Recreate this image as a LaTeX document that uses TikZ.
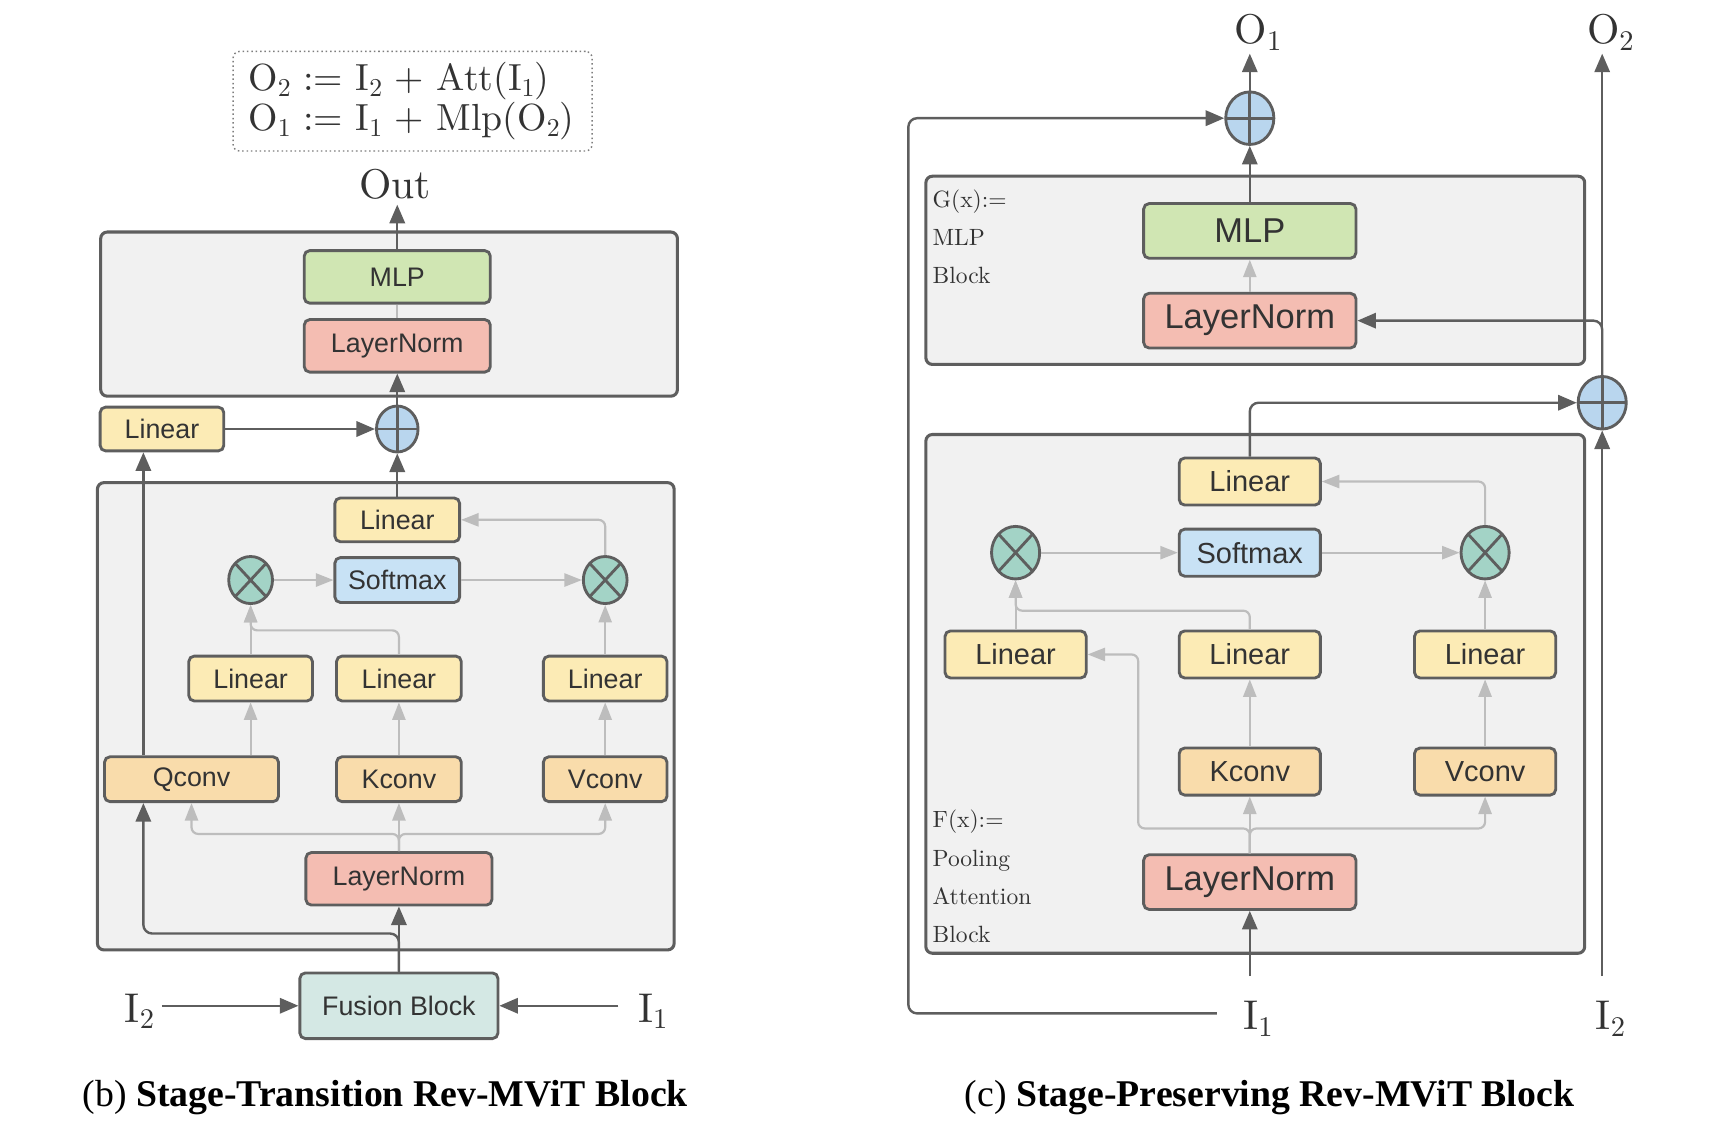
\documentclass[tikz,border=0pt]{standalone}
\usepackage{fontspec}
\usetikzlibrary{arrows.meta,shapes.geometric,calc}
\newfontfamily\sansf{Liberation Sans}
\newfontfamily\capf{Liberation Serif}
\newfontfamily\cmten{lmroman10-regular}[Extension=.otf]

% lowered index in the current serif face
\newcommand\sbs[2]{\raisebox{-0.15em}{\fontsize{#1}{#1}\selectfont #2}}

\definecolor{edge}{HTML}{5E5E5E}
\definecolor{ink}{HTML}{333333}
\definecolor{panel}{HTML}{F1F1F1}
\definecolor{thin}{HTML}{BDBDBD}
\definecolor{linfill}{HTML}{FCEBB5}
\definecolor{convfill}{HTML}{F9DCAB}
\definecolor{normfill}{HTML}{F4BDB2}
\definecolor{mlpfill}{HTML}{D0E6B3}
\definecolor{softfill}{HTML}{C8E2F5}
\definecolor{mulfill}{HTML}{A3D3C6}
\definecolor{addfill}{HTML}{B9D6EE}
\definecolor{fusefill}{HTML}{D4E8E4}

\tikzset{
  blk/.style={draw=edge, line width=2.6bp, rounded corners=5bp, inner sep=0pt, text=ink,
    font=\sansf\fontsize{24.5bp}{28bp}\selectfont},
  mid/.style={font=\sansf\fontsize{26.5bp}{30bp}\selectfont},
  large/.style={font=\sansf\fontsize{31.5bp}{36bp}\selectfont},
  lin/.style={blk, fill=linfill},
  conv/.style={blk, fill=convfill},
  norm/.style={blk, fill=normfill},
  mlpbox/.style={blk, fill=mlpfill},
  soft/.style={blk, fill=softfill},
  fuse/.style={blk, fill=fusefill},
  panelbox/.style={draw=edge, fill=panel, line width=2.8bp, rounded corners=6bp},
  dark/.style={draw=edge, line width=2.2bp, -{Triangle[length=17bp,width=14bp]}},
  darkline/.style={draw=edge, line width=2.2bp},
  light/.style={draw=thin, line width=2bp, -{Triangle[length=16bp,width=12bp]}},
  lightline/.style={draw=thin, line width=2bp},
  addop/.style={ellipse, draw=edge, line width=2.6bp, fill=addfill, inner sep=0pt,
    path picture={\draw[edge, line width=2.6bp]
      (path picture bounding box.north) -- (path picture bounding box.south)
      (path picture bounding box.west) -- (path picture bounding box.east);}},
  mulop/.style={ellipse, draw=edge, line width=2.6bp, fill=mulfill, inner sep=0pt,
    path picture={\draw[edge, line width=2.6bp]
      (path picture bounding box.south west) -- (path picture bounding box.north east)
      (path picture bounding box.north west) -- (path picture bounding box.south east);}},
  symb/.style={text=ink, inner sep=0pt, anchor=base, font=\cmten\fontsize{38bp}{44bp}\selectfont},
  side/.style={text=ink, inner sep=0pt, anchor=north west, align=left,
    font=\cmten\fontsize{21.5bp}{35bp}\selectfont},
  caption/.style={text=black, inner sep=0pt, anchor=base, font=\capf\fontsize{34.5bp}{40bp}\selectfont},
}

\begin{document}
\begin{tikzpicture}[x=1bp, y=-1bp]
\useasboundingbox (0,0) rectangle (1568,1042);

% ---------------- (b) stage-transition block ----------------
\node[draw=edge!80, dash pattern=on 1.4bp off 2.6bp, line width=1.3bp, rounded corners=6bp,
  text width=300bp, inner xsep=14bp, minimum height=91bp, align=left, text=ink,
  font=\cmten\fontsize{34.5bp}{36bp}\selectfont] (eq) at (377,92.5)
  {O\sbs{23.5bp}{2} := I\sbs{23.5bp}{2} + Att(I\sbs{23.5bp}{1})\\
   O\sbs{23.5bp}{1} := I\sbs{23.5bp}{1} + Mlp(O\sbs{23.5bp}{2})};

\node[symb] (outL) at (361,181) {Out};
\coordinate (outtip) at (363,187);

\draw[panelbox] (92,212) rectangle (619,362);
\draw[panelbox] (89,441) rectangle (616,868);

\node[mlpbox, minimum width=170bp, minimum height=48bp] (mlpL) at (363,253) {MLP};
\node[norm, minimum width=170bp, minimum height=48bp] (ln1) at (363,316) {LayerNorm};
\node[lin, minimum width=113bp, minimum height=40bp] (linL) at (148,392) {Linear};
\node[addop, minimum width=38bp, minimum height=42bp] (plusL) at (363,392) {};

\node[lin, minimum width=114bp, minimum height=40bp] (linT) at (363,475) {Linear};
\node[soft, minimum width=114bp, minimum height=41bp] (soft) at (363,530) {Softmax};
\node[mulop, minimum width=40bp, minimum height=43bp] (mulA) at (229,530) {};
\node[mulop, minimum width=40bp, minimum height=43bp] (mulB) at (553,530) {};

\node[lin, minimum width=113bp, minimum height=41bp] (lin1) at (229,620) {Linear};
\node[lin, minimum width=114bp, minimum height=41bp] (lin2) at (364.5,620) {Linear};
\node[lin, minimum width=113bp, minimum height=41bp] (lin3) at (553,620) {Linear};

\node[conv, minimum width=159bp, minimum height=41bp] (qconv) at (175,712) {Qconv};
\node[conv, minimum width=114bp, minimum height=41bp] (kconv) at (364.5,712) {Kconv};
\node[conv, minimum width=113bp, minimum height=41bp] (vconv) at (553,712) {Vconv};

\node[norm, minimum width=170bp, minimum height=48bp] (ln2) at (364.5,803) {LayerNorm};
\node[fuse, minimum width=181bp, minimum height=60bp] (fusion) at (364.5,919) {Fusion Block};

\node[symb] (i2L) at (121,934) {I\rlap{\sbs{26bp}{2}}};
\node[symb] (i1L) at (590,934) {I\rlap{\sbs{26bp}{1}}};
\coordinate (i2s) at (148,919);
\coordinate (i1s) at (565,919);
\coordinate (qx) at (131,0);
\coordinate (jn) at (0,853);
\coordinate (spl) at (0,762);
\coordinate (kq) at (0,576);

% dark connectors
\draw[dark] (mlpL.north) -- (outtip);
\draw[lightline] (ln1.north) -- (mlpL.south);
\draw[dark] (plusL.north) -- (ln1.south);
\draw[dark] (linL.east) -- (plusL.west);
\draw[dark] (linT.north) -- (plusL.south);
\draw[dark] (qconv.north -| qx) -- (linL.south -| qx);
\draw[dark] (fusion.north) -- (ln2.south);
\draw[dark, rounded corners=8bp] (fusion.north) |- (jn -| qx) -- (qconv.south -| qx);
\draw[dark] (i2s) -- (fusion.west);
\draw[dark] (i1s) -- (fusion.east);

% light connectors
\draw[light, rounded corners=6bp] (ln2.north) -- (ln2.north |- spl) -| (qconv.south);
\draw[light, rounded corners=6bp] (ln2.north) -- (ln2.north |- spl) -| (vconv.south);
\draw[light] (ln2.north) -- (kconv.south);
\draw[light] (qconv.north -| lin1.south) -- (lin1.south);
\draw[light] (kconv.north) -- (lin2.south);
\draw[light] (vconv.north) -- (lin3.south);
\draw[light] (lin1.north) -- (mulA.south);
\draw[light, rounded corners=6bp] (lin2.north) -- (lin2.north |- kq) -| (mulA.south);
\draw[light] (lin3.north) -- (mulB.south);
\draw[light] (mulA.east) -- (soft.west);
\draw[light] (soft.east) -- (mulB.west);
\draw[light, rounded corners=6bp] (mulB.north) |- (linT.east);

\node[caption] (capb) at (352,1011) {(b) \textbf{Stage-Transition Rev-MViT Block}};

% ---------------- (c) stage-preserving block ----------------
\draw[panelbox] (846,161) rectangle (1448,333);
\draw[panelbox] (846,397) rectangle (1448,871);

\node[symb] (o1) at (1143,40) {O\rlap{\sbs{26bp}{1}}};
\node[symb] (o2) at (1465,40) {O\rlap{\sbs{26bp}{2}}};
\coordinate (o1t) at (1142,49);
\coordinate (o2t) at (1464,49);

\node[addop, minimum width=44bp, minimum height=48bp] (plusR1) at (1142,108) {};
\node[addop, minimum width=44bp, minimum height=48bp] (plusR2) at (1464,368) {};

\node[side] (glab) at (852,173) {G(x):=\\MLP\\Block};
\node[mlpbox, large, minimum width=194bp, minimum height=50bp] (mlpr) at (1142,211) {MLP};
\node[norm, large, minimum width=194bp, minimum height=50bp] (lnr1) at (1142,293) {LayerNorm};

\node[lin, mid, minimum width=129bp, minimum height=43bp] (lintr) at (1142,440) {Linear};
\node[soft, mid, minimum width=129bp, minimum height=43bp] (softr) at (1142,505) {Softmax};
\node[mulop, minimum width=44bp, minimum height=48bp] (mulAr) at (928,505) {};
\node[mulop, minimum width=44bp, minimum height=48bp] (mulBr) at (1357,505) {};

\node[lin, mid, minimum width=129bp, minimum height=43bp] (lin1r) at (928,598) {Linear};
\node[lin, mid, minimum width=129bp, minimum height=43bp] (lin2r) at (1142,598) {Linear};
\node[lin, mid, minimum width=129bp, minimum height=43bp] (lin3r) at (1357,598) {Linear};

\node[conv, mid, minimum width=129bp, minimum height=43bp] (kconvr) at (1142,705) {Kconv};
\node[conv, mid, minimum width=129bp, minimum height=43bp] (vconvr) at (1357,705) {Vconv};

\node[norm, large, minimum width=194bp, minimum height=50bp] (lnr2) at (1142,806) {LayerNorm};
\node[side] (flab) at (852,740) {F(x):=\\Pooling\\Attention\\Block};

\node[symb] (i1r) at (1143,941) {I\rlap{\sbs{26bp}{1}}};
\node[symb] (i2r) at (1465,941) {I\rlap{\sbs{26bp}{2}}};
\coordinate (i1t) at (1142,892);
\coordinate (i2t) at (1464,892);
\coordinate (loopstart) at (1112,926);
\coordinate (lx) at (830,0);
\coordinate (spR) at (0,757);
\coordinate (qxr) at (1040,0);
\coordinate (kqr) at (0,558);

% dark connectors
\draw[dark, rounded corners=8bp] (loopstart) -| (plusR1.west -| lx) -- (plusR1.west);
\draw[dark] (plusR1.north) -- (o1t);
\draw[dark] (mlpr.north) -- (plusR1.south);
\draw[light] (lnr1.north) -- (mlpr.south);
\draw[dark] (i1t) -- (lnr2.south);
\draw[dark] (i2t) -- (plusR2.south);
\draw[dark] (plusR2.north) -- (o2t);
\draw[dark, rounded corners=8bp] (plusR2.north) |- (lnr1.east);
\draw[dark, rounded corners=8bp] (lintr.north) |- (plusR2.west);

% light connectors
\draw[light, rounded corners=6bp] (lnr2.north) -- (lnr2.north |- spR) -| (vconvr.south);
\draw[light, rounded corners=6bp] (lnr2.north) -- (lnr2.north |- spR) -| (lin1r.east -| qxr) -- (lin1r.east);
\draw[light] (lnr2.north) -- (kconvr.south);
\draw[light] (kconvr.north) -- (lin2r.south);
\draw[light] (vconvr.north) -- (lin3r.south);
\draw[light] (lin1r.north) -- (mulAr.south);
\draw[light, rounded corners=6bp] (lin2r.north) -- (lin2r.north |- kqr) -| (mulAr.south);
\draw[light] (lin3r.north) -- (mulBr.south);
\draw[light] (mulAr.east) -- (softr.west);
\draw[light] (softr.east) -- (mulBr.west);
\draw[light, rounded corners=6bp] (mulBr.north) |- (lintr.east);

\node[caption] (capc) at (1160,1011) {(c) \textbf{Stage-Preserving Rev-MViT Block}};
\end{tikzpicture}
\end{document}
